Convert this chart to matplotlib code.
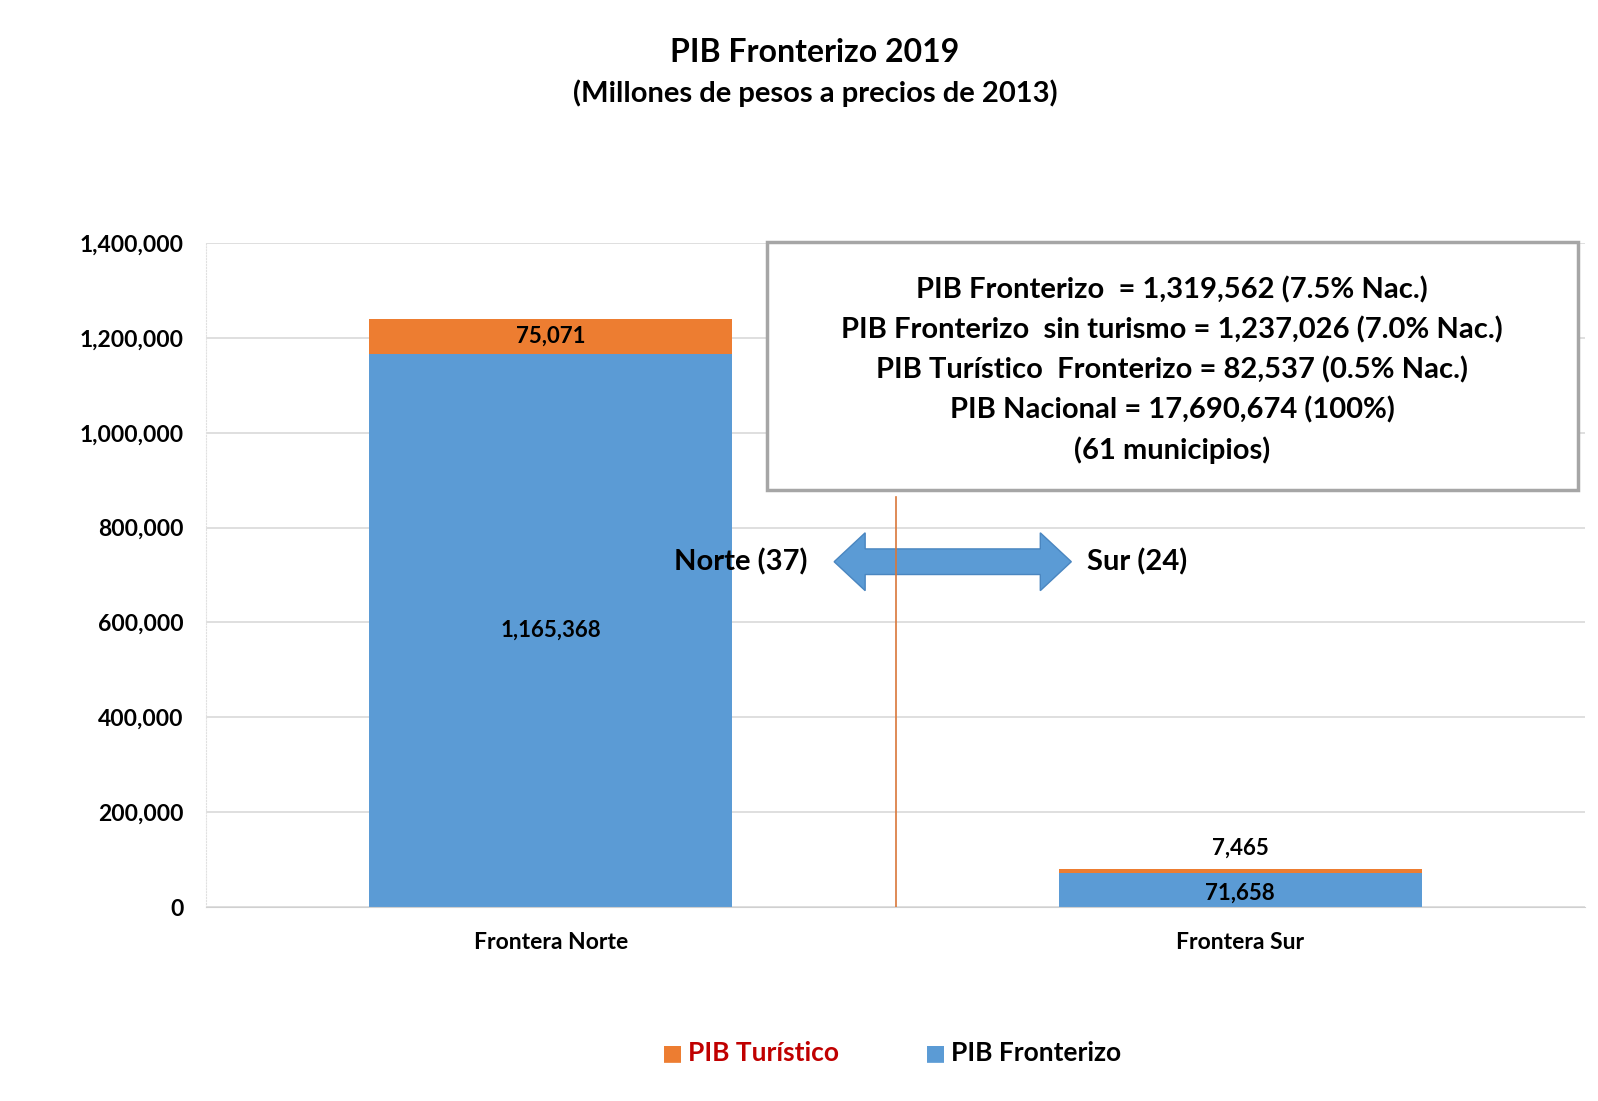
import matplotlib
matplotlib.use('Agg')
import matplotlib.pyplot as plt
from matplotlib.patches import Polygon
from matplotlib.ticker import FuncFormatter

plt.rcParams['font.family'] = ['Lato', 'DejaVu Sans']
plt.rcParams['font.weight'] = 'bold'

categorias = ['Frontera Norte', 'Frontera Sur']
pib_fronterizo = [1165368, 71658]
pib_turistico = [75071, 7465]
municipios = [37, 24]

resumen = ['PIB Fronterizo  = 1,319,562 (7.5% Nac.)',
           'PIB Fronterizo  sin turismo = 1,237,026 (7.0% Nac.)',
           'PIB Turístico  Fronterizo = 82,537 (0.5% Nac.)',
           'PIB Nacional = 17,690,674 (100%)',
           '(61 municipios)']

AZUL = '#5B9BD5'
NARANJA = '#ED7D31'

fig = plt.figure(figsize=(15.98, 11.01), dpi=100)
ax = fig.add_axes([206/1598, 1 - 907/1101, (1585-206)/1598, (907-243)/1101])

x = list(range(len(categorias)))
ax.bar(x, pib_fronterizo, width=0.526, color=AZUL, zorder=2)
ax.bar(x, pib_turistico, width=0.526, bottom=pib_fronterizo, color=NARANJA, zorder=2)

ax.set_xlim(-0.5, 1.5)
ax.set_ylim(0, 1400000)
ax.set_yticks(range(0, 1400001, 200000))
ax.yaxis.set_major_formatter(FuncFormatter(lambda v, p: f'{int(v):,}'))
ax.set_xticks(x)
ax.set_xticklabels(categorias)
ax.tick_params(axis='both', length=0, labelsize=16.5)
ax.tick_params(axis='x', pad=18)
ax.tick_params(axis='y', pad=16)
ax.grid(axis='y', color='#d9d9d9', lw=1.2, zorder=0)
for s in ['top', 'right']:
    ax.spines[s].set_visible(False)
ax.spines['left'].set_color('#e0e0e0')
ax.spines['left'].set_linestyle(':')
ax.spines['bottom'].set_color('#d0d0d0')

# etiquetas de datos
ax.text(0, pib_fronterizo[0] + pib_turistico[0] / 2, f'{pib_turistico[0]:,}',
        ha='center', va='center', fontsize=16)
ax.text(0, pib_fronterizo[0] / 2, f'{pib_fronterizo[0]:,}',
        ha='center', va='center', fontsize=16)
ax.text(1, pib_fronterizo[1] + pib_turistico[1] + 45000, f'{pib_turistico[1]:,}',
        ha='center', va='center', fontsize=16)
ax.text(1, pib_fronterizo[1] / 2 - 6000, f'{pib_fronterizo[1]:,}',
        ha='center', va='center', fontsize=16)

# linea divisoria y flecha doble
ax.plot([0.5, 0.5], [0, 865000], color='#D9773A', lw=1.2, zorder=5)
y_arr = 728000
x_izq, x_der, cabeza = 0.411, 0.755, 0.045
eje, ala = 27000, 61000
pts = [(x_izq, y_arr), (x_izq + cabeza, y_arr + ala), (x_izq + cabeza, y_arr + eje),
       (x_der - cabeza, y_arr + eje), (x_der - cabeza, y_arr + ala), (x_der, y_arr),
       (x_der - cabeza, y_arr - ala), (x_der - cabeza, y_arr - eje),
       (x_izq + cabeza, y_arr - eje), (x_izq + cabeza, y_arr - ala)]
ax.add_patch(Polygon(pts, closed=True, facecolor=AZUL, edgecolor='#4a86c0', lw=1, zorder=4))
ax.text(0.276, y_arr, f'Norte ({municipios[0]})', ha='center', va='center',
        fontsize=21, zorder=6)
ax.text(0.851, y_arr, f'Sur ({municipios[1]})', ha='center', va='center',
        fontsize=21, zorder=6)

# cuadro de resumen
fig.patches.append(plt.Rectangle((767/1598, 1 - 490/1101), (1578-767)/1598, (490-242)/1101,
                                 transform=fig.transFigure, facecolor='white',
                                 edgecolor='#a6a6a6', lw=2.5, zorder=10))
for i, t in enumerate(resumen):
    fig.text(1172/1598, 1 - (290 + i * 40) / 1101, t, ha='center', va='center',
             fontsize=21, zorder=11)

fig.text(0.51, 1 - 52/1101, 'PIB Fronterizo 2019', ha='center', va='center', fontsize=23)
fig.text(0.51, 1 - 93/1101, '(Millones de pesos a precios de 2013)', ha='center',
         va='center', fontsize=21)

# leyenda
fig.text(672/1598, 1 - 1053/1101, '\u25A0', color=NARANJA, fontsize=16, ha='center', va='center',
         family='DejaVu Sans')
fig.text(688/1598, 1 - 1053/1101, 'PIB Turístico', color='#C00000', fontsize=19,
         ha='left', va='center')
fig.text(935/1598, 1 - 1053/1101, '\u25A0', color=AZUL, fontsize=16, ha='center', va='center',
         family='DejaVu Sans')
fig.text(951/1598, 1 - 1053/1101, 'PIB Fronterizo', color='black', fontsize=19,
         ha='left', va='center')

fig.savefig('out.png', dpi=100, facecolor='white')
